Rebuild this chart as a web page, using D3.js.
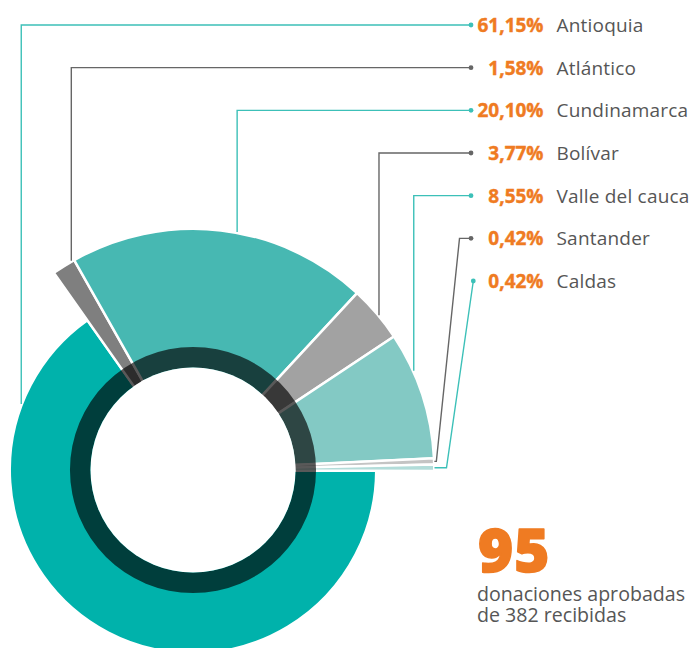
<!DOCTYPE html>
<html><head><meta charset="utf-8">
<script src="https://cdn.jsdelivr.net/npm/d3@7"></script>
<style>body{margin:0;background:#fff}svg{display:block}</style>
</head><body>
<svg id="chart" width="694" height="648"></svg>
<script>
// ---- data ----
const departamentos = ["Antioquia","Atlántico","Cundinamarca","Bolívar","Valle del cauca","Santander","Caldas"];
const porcentajes   = [61.15, 1.58, 20.10, 3.77, 8.55, 0.42, 0.42];
const etiquetas     = ["61,15%","1,58%","20,10%","3,77%","8,55%","0,42%","0,42%"];
const aprobadas = 95;
const recibidas = 382;

// ---- styles / layout ----
const fills  = ["#00b2ab","#7f7f7f","#47b8b2","#a2a2a2","#83c9c4","#c4c4c4","#b2dcd9"];
const lineCol = ["#3cc0b8","#666666","#3cc0b8","#666666","#3cc0b8","#666666","#3cc0b8"];
const orange = "#ef7b22", textGray = "#565656";
const cx = 193, cy = 470;
const sep = 2.5;

const svg = d3.select("#chart");
const g = svg.append("g").attr("transform", `translate(${cx},${cy})`);

// remainder up to 100% is drawn as part of the main slice, as in the original
const resto = 100 - d3.sum(porcentajes);
const pieData = [{name:"resto", value: resto}].concat(departamentos.map((n,i)=>({name:n, value:porcentajes[i], i})));
const startA = Math.PI/2 + 0.004;
const pie = d3.pie().sort(null).value(d=>d.value)
  .startAngle(startA).endAngle(startA + 2*Math.PI);
const arcsAll = pie(pieData);
const arcs = arcsAll.slice(1).map(a => ({...a}));
arcs[0].startAngle = arcsAll[0].startAngle; // merge remainder into main slice

const rScale = d3.scaleOrdinal().domain(departamentos)
  .range([182, 240, 240, 240, 240, 240, 240]);   // visible outer radius

const arc = d3.arc().innerRadius(95).outerRadius(d => rScale(d.data.name) + sep/2);

g.selectAll("path.slice").data(arcs).join("path")
  .attr("class","slice")
  .attr("d", arc)
  .attr("fill", d => fills[d.data.i])
  .attr("stroke", "#fff").attr("stroke-width", sep).attr("stroke-linejoin","miter");

// dark translucent ring
g.append("path")
  .attr("d", d3.arc().innerRadius(102.5).outerRadius(123).startAngle(0).endAngle(2*Math.PI)())
  .attr("fill", "#000").attr("fill-opacity", 0.65);
g.append("circle").attr("r", 102.5).attr("fill", "#fff");

// ---- labels ----
const rowY = d3.scalePoint().domain(departamentos).range([25, 281]);
const pctX = 543.5, nameX = 556.5, dotX = 471;

const lab = svg.append("g");
lab.selectAll("text.pct").data(departamentos).join("text")
  .attr("x", pctX).attr("y", d => rowY(d) + 7)
  .attr("text-anchor","end")
  .attr("font-family","'Open Sans', sans-serif").attr("font-weight",700).attr("font-size",19)
  .attr("fill", orange).attr("stroke", orange).attr("stroke-width", 0.4)
  .text((d,i)=>etiquetas[i]);
lab.selectAll("text.name").data(departamentos).join("text")
  .attr("x", nameX).attr("y", d => rowY(d) + 7)
  .attr("font-family","'Open Sans', sans-serif").attr("font-size",19)
  .attr("letter-spacing", 0.2)
  .attr("fill", textGray)
  .text(d=>d);

// ---- leader lines ----
const anchorT = [0.856, 0.88, 0.553, 0.543, 0.305]; // position along slice where the leader attaches
const leaders = svg.append("g").attr("fill","none").attr("stroke-width",1.4);
const pts = [];
arcs.forEach((a, k) => {
  const name = a.data.name, ry = rowY(name), r = rScale(name) + 2;
  let p;
  if (k < 5) {
    const ang = a.startAngle + anchorT[k]*(a.endAngle - a.startAngle);
    const x = cx + r*Math.sin(ang), y = cy - r*Math.cos(ang);
    p = [[x, y], [x, ry], [dotX, ry]];
  } else {
    const ang = (a.startAngle + a.endAngle)/2;
    const x = cx + (r-0.5)*Math.sin(ang), y = cy - (r-0.5)*Math.cos(ang);
    if (k === 5) p = [[x, y], [x + 2, y], [459.5, ry], [dotX, ry]];
    else p = [[x, y], [x + 12, y], [dotX + 2.3, ry]];
  }
  pts.push({p, col: lineCol[k]});
});
leaders.selectAll("path").data(pts).join("path")
  .attr("d", d => d3.line()(d.p)).attr("stroke", d => d.col);
svg.append("g").selectAll("circle").data(pts).join("circle")
  .attr("cx", d => d.p[d.p.length-1][0]).attr("cy", d => d.p[d.p.length-1][1])
  .attr("r", 2.4).attr("fill", d => d.col);

// ---- big number ----
svg.append("text").attr("x", 478).attr("y", 571.5)
  .attr("font-family","'Open Sans', sans-serif").attr("font-weight",800).attr("font-size",60)
  .attr("letter-spacing", 1)
  .attr("fill", orange).attr("stroke", orange).attr("stroke-width", 1.6).attr("stroke-linejoin","round")
  .text(aprobadas);
const sub = svg.append("text").attr("x", 477)
  .attr("font-family","'Open Sans', sans-serif").attr("font-size",19.6).attr("fill", textGray);
sub.append("tspan").attr("x", 477).attr("y", 600.7).text("donaciones aprobadas");
sub.append("tspan").attr("x", 477).attr("y", 622).text(`de ${recibidas} recibidas`);
</script>
</body></html>
